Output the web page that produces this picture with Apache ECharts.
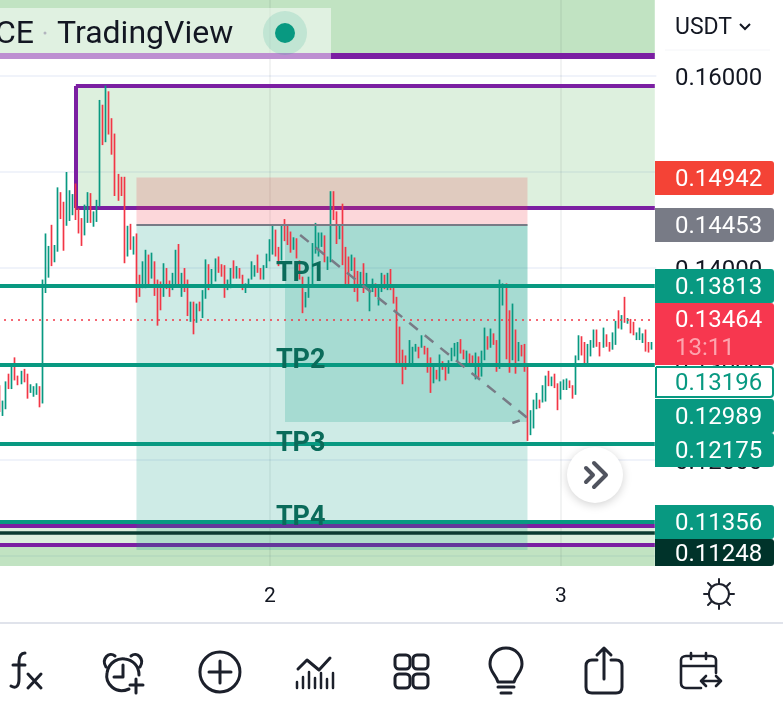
<!DOCTYPE html>
<html>
<head>
<meta charset="utf-8">
<title>TradingView chart</title>
<style>
html,body{margin:0;padding:0;background:#fff}
#chart{width:783px;height:719px}
</style>
<script src="https://cdn.jsdelivr.net/npm/echarts@6/dist/echarts.min.js"></script>
</head>
<body>
<div id="chart"></div>
<script>
// 15 minute candles
const opens = [
0.1278,0.1246,0.1253,0.1290,0.1274,0.1307,0.1288,0.1279,0.1295,0.1290,
0.1270,0.1266,0.1268,0.1277,0.1259,0.1374,0.1390,0.1445,0.1406,0.1417,
0.1479,0.1469,0.1444,0.1449,0.1455,0.1488,0.1462,0.1452,0.1434,0.1447,
0.1478,0.1443,0.1448,0.1464,0.1570,0.1531,0.1584,0.1556,0.1540,0.1498,
0.1495,0.1495,0.1412,0.1446,0.1414,0.1436,0.1393,0.1379,0.1379,0.1414,
0.1389,0.1407,0.1388,0.1386,0.1370,0.1400,0.1387,0.1377,0.1381,0.1425,
0.1370,0.1400,0.1388,0.1344,0.1365,0.1343,0.1365,0.1348,0.1368,0.1404,
0.1382,0.1386,0.1412,0.1404,0.1403,0.1377,0.1379,0.1408,0.1389,0.1400,
0.1393,0.1374,0.1382,0.1388,0.1391,0.1414,0.1400,0.1388,0.1400,0.1407,
0.1414,0.1440,0.1422,0.1408,0.1451,0.1445,0.1438,0.1419,0.1431,0.1408,
0.1391,0.1359,0.1369,0.1381,0.1415,0.1412,0.1422,0.1434,0.1398,
0.1406,0.1480,0.1459,0.1430,0.1467,0.1422,0.1412,0.1397,0.1411,0.1397,
0.1382,0.1405,0.1381,0.1355,0.1375,0.1384,0.1361,0.1375,0.1393,0.1377,
0.1399,0.1381,0.1370,0.1339,0.1315,0.1309,0.1300,0.1300,0.1313,0.1318,
0.1317,0.1319,0.1317,0.1307,0.1280,0.1294,0.1282,0.1303,0.1301,0.1290,
0.1303,0.1308,0.1303,0.1326,0.1315,0.1297,0.1311,0.1309,0.1284,0.1308,
0.1287,0.1304,0.1329,0.1317,0.1332,0.1325,0.1295,0.1361,0.1384,0.1356,
0.1304,0.1336,0.1303,0.1320,0.1321,0.1297,0.1226,0.1233,0.1253,0.1263,
0.1260,0.1261,0.1293,0.1277,0.1290,0.1280,0.1263,0.1273,0.1273,0.1283,
0.1278,0.1268,0.1304,0.1329,0.1323,0.1300,0.1308,0.1317,0.1336,0.1323,
0.1317,0.1331,0.1323,0.1315,0.1320,0.1356,0.1336,0.1370,0.1342,0.1347,
0.1344,0.1325,0.1325,0.1322,0.1336,0.1323,0.1315
];
const closes = [
0.1250,0.1262,0.1282,0.1274,0.1297,0.1283,0.1278,0.1293,0.1281,0.1264,
0.1279,0.1277,0.1280,0.1255,0.1388,0.1436,0.1423,0.1402,0.1424,0.1484,
0.1451,0.1418,0.1500,0.1481,0.1477,0.1450,0.1436,0.1423,0.1466,0.1479,
0.1447,0.1459,0.1471,0.1575,0.1528,0.1590,0.1539,0.1518,0.1475,0.1470,
0.1475,0.1405,0.1444,0.1419,0.1433,0.1364,0.1370,0.1407,0.1419,0.1381,
0.1416,0.1371,0.1340,0.1356,0.1405,0.1378,0.1370,0.1395,0.1419,0.1381,
0.1395,0.1375,0.1350,0.1365,0.1331,0.1363,0.1355,0.1377,0.1409,0.1377,
0.1399,0.1410,0.1395,0.1391,0.1369,0.1388,0.1400,0.1389,0.1402,0.1389,
0.1377,0.1384,0.1389,0.1407,0.1403,0.1395,0.1388,0.1403,0.1415,0.1430,
0.1444,0.1412,0.1402,0.1445,0.1428,0.1424,0.1416,0.1432,0.1410,0.1388,
0.1353,0.1375,0.1391,0.1426,0.1447,0.1437,0.1437,0.1406,0.1412,
0.1480,0.1450,0.1425,0.1445,0.1403,0.1382,0.1381,0.1414,0.1375,0.1365,
0.1396,0.1374,0.1395,0.1382,0.1389,0.1370,0.1381,0.1395,0.1378,0.1395,
0.1377,0.1363,0.1301,0.1301,0.1279,0.1294,0.1325,0.1318,0.1321,0.1306,
0.1330,0.1310,0.1291,0.1270,0.1297,0.1284,0.1310,0.1294,0.1283,0.1304,
0.1317,0.1322,0.1323,0.1311,0.1305,0.1314,0.1301,0.1297,0.1312,0.1286,
0.1314,0.1338,0.1315,0.1337,0.1320,0.1292,0.1388,0.1384,0.1305,0.1291,
0.1363,0.1290,0.1323,0.1308,0.1292,0.1220,0.1252,0.1263,0.1270,0.1254,
0.1278,0.1288,0.1277,0.1287,0.1275,0.1252,0.1282,0.1284,0.1285,0.1275,
0.1264,0.1309,0.1330,0.1309,0.1299,0.1321,0.1325,0.1336,0.1318,0.1308,
0.1338,0.1318,0.1313,0.1333,0.1345,0.1337,0.1351,0.1343,0.1348,0.1332,
0.1330,0.1333,0.1338,0.1332,0.1313,0.1312,0.1323
];

// slot 0 is an empty bar left of the visible edge so the levels run to x=0
const barCount = 218;
const dayBars = [90, 186];
const dayLabels = ['2', '3'];
const priceTicks = [0.11, 0.12, 0.13, 0.14, 0.15, 0.16];

const tpNames = ['TP1', 'TP2', 'TP3', 'TP4'];
const tpLabelPrices = [0.1394, 0.1303, 0.1217, 0.1139];
const tpLevels = [0.13813, 0.12989, 0.12175, 0.11356];
const purpleLevels = [0.16208, 0.15895, 0.14625, 0.11320, 0.11117];
const stopLevel = 0.11248;
const entryPrice = 0.14453;
const stopPrice = 0.14942;
const lastPrice = 0.13464;
const targetBottom = 0.11064;
const reachedBottom = 0.12397;
const pathPrices = [0.14344, 0.12439, 0.12387];
const pathBars = [100, 175, 170];

const tagLabels = ['0.14942', '0.14453', '0.13813', '0.13464', '0.13196', '0.12989', '0.12175', '0.11356', '0.11248'];

const GREEN = '#089981', RED = '#f23645', PURPLE = '#7b1fa2', GREY = '#787b86', INK = '#131722';
const yMin = 0.108978, yMax = 0.167906;
const categories = Array.from({length: barCount}, (_, i) => String(i));
const LAST = barCount - 1;

const candles = ['-'].concat(opens.map((o, i) => [o, closes[i], Math.min(o, closes[i]), Math.max(o, closes[i])]));

function hLine(price, from, to, width, color, type) {
    return [
        {coord: [from, price], lineStyle: {width: width, color: color, type: type || 'solid'}},
        {coord: [to, price]}
    ];
}
function zone(fromBar, toBar, top, bottom, color) {
    return [
        {coord: [fromBar, top], itemStyle: {color: color}},
        {coord: [toBar, bottom]}
    ];
}

// price tags on the axis: pushed apart like the app does, so laid out by hand
const tagTops = [161, 208, 269, 303, 366, 399, 433, 505, 539];
const tagHeights = [34, 34, 34, 62, 32, 34, 34, 34, 27];
const tagFills = ['#f44336', GREY, GREEN, '#f7374f', '#fff', GREEN, GREEN, GREEN, '#00332a'];
const font = 'Roboto, sans-serif';

const graphics = [];
tagLabels.forEach((t, i) => {
    const outlined = tagFills[i] === '#fff';
    graphics.push({
        type: 'rect', z: 20,
        shape: {x: 655 + (outlined ? 1 : 0), y: tagTops[i] + (outlined ? 1 : 0), width: outlined ? 117 : 119, height: tagHeights[i] - (outlined ? 2 : 0), r: [0, 3, 3, 0]},
        style: {fill: tagFills[i], stroke: outlined ? GREEN : null, lineWidth: 2}
    });
    graphics.push({
        type: 'text', z: 21, x: 675, y: tagTops[i] + (i === 3 ? 18 : i === 8 ? 16 : tagHeights[i] / 2 + 2),
        style: {text: t, fill: outlined ? GREEN : '#fff', font: '24px ' + font, textVerticalAlign: 'middle'}
    });
});
graphics.push({type: 'text', z: 21, x: 675, y: 349, style: {text: '13:11', fill: '#fda4ae', font: '24px ' + font, textVerticalAlign: 'middle'}});

// legend strip
graphics.push(
    {type: 'rect', z: 15, shape: {x: 0, y: 8, width: 331, height: 51}, style: {fill: 'rgba(255,255,255,0.5)'}},
    {type: 'text', z: 16, x: -5, y: 35, style: {text: 'CE', fill: INK, font: '32px ' + font, textVerticalAlign: 'middle'}},
    {type: 'circle', z: 16, shape: {cx: 45, cy: 33, r: 1.5}, style: {fill: '#b2b5be'}},
    {type: 'text', z: 16, x: 57, y: 35, style: {text: 'TradingView', fill: INK, font: '32px ' + font, textVerticalAlign: 'middle'}},
    {type: 'circle', z: 16, shape: {cx: 285, cy: 33, r: 22}, style: {fill: 'rgba(8,153,129,0.14)'}},
    {type: 'circle', z: 17, shape: {cx: 285, cy: 33, r: 10}, style: {fill: GREEN}}
);

// currency switch above the axis
graphics.push(
    {type: 'text', z: 21, x: 675, y: 28, style: {text: 'USDT', fill: INK, font: '23px ' + font, textVerticalAlign: 'middle'}},
    {type: 'polyline', z: 21, shape: {points: [[740, 24], [745, 29], [750, 24]]}, style: {stroke: INK, fill: null, lineWidth: 2}},
    {type: 'line', z: 21, shape: {x1: 665, y1: 50, x2: 770, y2: 50}, style: {stroke: '#f4f5f8', lineWidth: 1}}
);

// the graphic component has no plain path type, so each icon becomes a registered shape
const iconStroke = {stroke: '#1c202b', fill: null, lineWidth: 3, lineCap: 'round', lineJoin: 'round'};
let iconCount = 0;
function icon(d, x, y, lw, stroke, z) {
    const name = 'tvIcon' + (iconCount++);
    echarts.graphic.registerShape(name, echarts.graphic.extendPath(d));
    graphics.push({type: name, z: z || 21, x: x, y: y, shape: {},
        style: Object.assign({}, iconStroke, lw ? {lineWidth: lw} : {}, stroke ? {stroke: stroke} : {})});
}

// scroll to latest button
graphics.push({type: 'circle', z: 18, shape: {cx: 595, cy: 475, r: 28}, style: {fill: '#fff', shadowBlur: 10, shadowColor: 'rgba(0,0,0,0.18)', shadowOffsetY: 2}});
icon('M0 5 L7 12 L0 19 M8 0 L20 12 L8 24', 586, 463, 4, '#50535e', 19);

// toolbar
graphics.push({type: 'line', z: 21, shape: {x1: 0, y1: 623, x2: 783, y2: 623}, style: {stroke: '#e0e3eb', lineWidth: 2}});
icon('M14 0 C9 0 8 4 8 9 L8 26 C8 33 5 36 0 33 M2 12 L14 12 M17 21 L30 35 M30 21 L17 35', 11, 653);
icon('M3 14 C-2 6 6 -2 12 3 M37 14 C42 6 34 -2 28 3 M26 36 C12 42 2 30 4 20 C6 8 16 5 22 6 C30 7 36 13 36 22 M20 12 L20 24 L11 24 M27 32 L40 32 M33 26 L33 40', 103, 653);
icon('M20 0 A20 20 0 1 1 19.9 0 Z M20 9 L20 31 M9 20 L31 20', 200, 652);
icon('M1 11 L10 2 L22 12 L33 0', 297, 658);
icon('M1 24 L1 30 M7 19 L7 30 M13 14 L13 30 M19 20 L19 30 M25 15 L25 30 M31 21 L31 30 M37 15 L37 30', 296, 658, 2.5);
[[395, 655], [413, 655], [395, 674], [413, 674]].forEach(p => {
    graphics.push({type: 'rect', z: 21, shape: {x: p[0], y: p[1], width: 15, height: 14, r: 4}, style: iconStroke});
});
icon('M16 0 C6 0 0 8 0 16 C0 24 6 27 8 34 L24 34 C26 27 32 24 32 16 C32 8 26 0 16 0 Z M8 39 L24 39 M11 45 L21 45', 490, 648);
icon('M11 12 L6 12 C2 12 0 14 0 18 L0 39 C0 43 2 45 6 45 L30 45 C34 45 36 43 36 39 L36 18 C36 14 34 12 30 12 L25 12 M18 31 L18 0 M11 7 L18 0 L25 7', 586, 648);
icon('M20 35 L5 35 C2 35 0 33 0 30 L0 7 C0 5 2 3 5 3 L30 3 C33 3 35 5 35 7 L35 20 M0 13 L35 13 M10 0 L10 6 M25 0 L25 6 M20 28 L40 28 M25 23 L20 28 L25 33 M35 23 L40 28 L35 33', 681, 653, 2.6);
icon('M15 5 A10 10 0 1 1 14.9 5 Z M15 0 L15 4 M15 26 L15 30 M0 15 L4 15 M26 15 L30 15 M4 4 L7 7 M26 4 L23 7 M4 26 L7 23 M26 26 L23 23', 704, 579, 2);

const chart = echarts.init(document.getElementById('chart'));
chart.setOption({
    animation: false,
    backgroundColor: '#fff',
    graphic: {elements: graphics},
    grid: {left: -4.5, top: 0, width: barCount * 3.03125, height: 566, outerBoundsMode: 'none'},
    xAxis: {
        type: 'category',
        data: categories,
        boundaryGap: true,
        axisLine: {show: false},
        axisTick: {show: false},
        splitLine: {show: false},
        axisLabel: {
            interval: i => dayBars.includes(i),
            formatter: (v, i) => dayLabels[dayBars.indexOf(i)] || '',
            margin: 20,
            color: INK,
            fontFamily: font,
            fontSize: 21
        }
    },
    yAxis: {
        type: 'value',
        position: 'right',
        min: yMin,
        max: yMax,
        axisLine: {show: false},
        axisTick: {show: false, customValues: priceTicks},
        splitLine: {show: true, lineStyle: {color: '#f0f3fa', width: 2}},
        axisLabel: {
            customValues: priceTicks,
            formatter: v => v.toFixed(5),
            margin: 18.7,
            verticalAlign: 'top',
            padding: [-9, 0, 0, 0],
            color: INK,
            fontFamily: font,
            fontSize: 24
        }
    },
    series: [
        {
            name: 'zones', type: 'line', data: [], silent: true,
            markArea: {
                silent: true, z: 1,
                data: [
                    zone(0, LAST, yMax, purpleLevels[0], 'rgba(76,175,80,0.35)'),
                    zone(26, LAST, purpleLevels[1], purpleLevels[2], 'rgba(76,175,80,0.19)'),
                    zone(0, LAST, purpleLevels[3], purpleLevels[4], 'rgba(76,175,80,0.19)'),
                    zone(0, LAST, purpleLevels[4], yMin, 'rgba(76,175,80,0.35)')
                ]
            },
            markLine: {
                silent: true, symbol: 'none', z: 2,
                label: {show: false},
                lineStyle: {color: 'rgba(42,46,57,0.06)', width: 2, type: 'solid'},
                data: dayBars.map(b => ({xAxis: b}))
            }
        },
        {
            name: 'purple', type: 'line', data: [], silent: true,
            markLine: {
                silent: true, symbol: 'none', z: 2,
                label: {show: false},
                data: [
                    hLine(purpleLevels[0], 0, LAST, 6, PURPLE),
                    hLine(purpleLevels[1], 26, LAST, 4, PURPLE),
                    hLine(purpleLevels[2], 26, LAST, 4, PURPLE),
                    hLine(purpleLevels[3], 0, LAST, 4, PURPLE),
                    hLine(purpleLevels[4], 0, LAST, 4, PURPLE),
                    [{coord: [26, purpleLevels[1]], lineStyle: {width: 4, color: PURPLE, type: 'solid'}}, {coord: [26, purpleLevels[2]]}]
                ]
            }
        },
        {
            name: 'position', type: 'line', data: [], silent: true,
            markArea: {
                silent: true, z: 3,
                data: [
                    zone(46, 175, stopPrice, entryPrice, 'rgba(242,54,69,0.2)'),
                    zone(46, 175, entryPrice, targetBottom, 'rgba(8,153,129,0.2)'),
                    zone(95, 175, entryPrice, reachedBottom, 'rgba(8,153,129,0.2)')
                ]
            }
        },
        {
            name: 'price', type: 'candlestick', z: 4,
            data: candles,
            barWidth: 1,
            silent: true,
            itemStyle: {color: GREEN, color0: RED, borderColor: GREEN, borderColor0: RED, borderWidth: 1.7}
        },
        {
            name: 'levels', type: 'line', data: [], silent: true,
            markLine: {
                silent: true, symbol: 'none', z: 5,
                label: {show: false},
                data: tpLevels.map(p => hLine(p, 0, LAST, 4, GREEN))
                    .concat([
                        hLine(stopLevel, 0, LAST, 3.5, '#0a3b30'),
                        hLine(entryPrice, 46, 175, 2, GREY),
                        hLine(lastPrice, 0, 216, 1.5, RED, [2, 5])
                    ])
            }
        },
        {
            name: 'path', type: 'line', z: 6, silent: true,
            data: pathBars.map((b, i) => [b, pathPrices[i]]),
            symbol: 'none',
            lineStyle: {color: GREY, width: 2.5, type: [11, 9]},
            markPoint: {
                silent: true, z: 7,
                symbol: 'rect', symbolSize: 0,
                data: tpNames.map((n, i) => ({
                    coord: [92, tpLabelPrices[i]],
                    label: {
                        show: true, formatter: n, position: 'right', distance: 0,
                        color: '#0a6b5a', fontFamily: font, fontWeight: 'bold', fontSize: 27
                    }
                }))
            }
        }
    ]
});
</script>
</body>
</html>
